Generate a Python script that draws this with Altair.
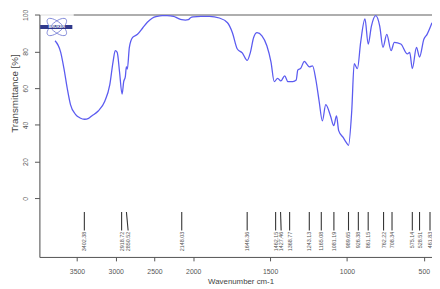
import altair as alt
import pandas as pd

# ---- spectrum (wavenumber cm-1, transmittance %) ----
wavenumber = [3783, 3710, 3668, 3626, 3584, 3520, 3460, 3402, 3350, 3310, 3226, 3141, 3077,
              3035, 3006, 2981, 2951, 2918, 2897, 2876, 2863, 2850, 2824, 2782, 2719, 2650,
              2592, 2530, 2465, 2400, 2338, 2253, 2200, 2148, 2100, 2063, 2030, 2000, 1950,
              1894, 1830, 1777, 1745, 1713, 1681, 1649, 1628, 1607, 1585, 1553, 1521, 1494,
              1473, 1451, 1430, 1405, 1384, 1352, 1330, 1320, 1300, 1277, 1260, 1245, 1224,
              1202, 1181, 1160, 1138, 1107, 1086, 1068, 1054, 1026, 1005, 990, 969, 953,
              932, 911, 883, 862, 841, 813, 787, 766, 741, 713, 692, 650, 607, 592, 575,
              548, 528, 500, 479, 447]
transmittance = [85.9, 79.6, 70.7, 60.0, 51.1, 45.8, 43.8, 43.1, 43.6, 44.9, 47.6, 52.9, 61.8,
                 74.3, 80.5, 79.6, 69.0, 56.8, 63.6, 66.3, 71.6, 70.5, 82.3, 87.7, 89.4, 93.0,
                 96.0, 98.2, 99.2, 99.6, 99.6, 99.2, 98.2, 97.4, 97.2, 97.4, 98.6, 98.9, 99.2,
                 99.2, 98.3, 95.7, 90.3, 81.4, 79.3, 75.2, 79.6, 87.7, 90.3, 88.6, 83.2, 74.3,
                 63.6, 65.4, 64.0, 66.8, 63.6, 63.6, 64.5, 69.9, 71.0, 74.7, 73.0, 71.6, 72.2,
                 64.5, 52.9, 42.2, 51.1, 44.9, 39.6, 44.9, 36.9, 33.3, 30.5, 28.9, 47.6, 73.4,
                 70.7, 85.0, 97.8, 84.1, 93.9, 99.6, 93.9, 82.3, 89.4, 80.5, 85.0, 84.1, 78.7,
                 79.6, 70.7, 82.3, 77.0, 86.7, 89.4, 95.7]

# ---- peak annotations ----
peak_labels = ["3402.38", "2918.72", "2850.52", "2148.03", "1646.36", "1462.15", "1427.46",
               "1368.77", "1243.13", "1165.08", "1081.19", "989.65", "926.38", "861.15",
               "762.22", "708.34", "575.14", "528.51", "461.83"]
peak_top = [3405, 2924, 2862, 2148, 1649, 1464, 1432, 1373, 1245, 1167, 1085, 990, 926, 862,
            762, 707, 575, 528, 460]
peak_bottom = [3405, 2924, 2840, 2148, 1649, 1464, 1428, 1373, 1245, 1167, 1085, 990, 926, 862,
               762, 707, 575, 528, 460]

x_ticks = [3500, 3000, 2500, 2000, 1500, 1000, 500]
y_ticks = [0, 20, 40, 60, 80, 100]

spec = pd.DataFrame({"wn": wavenumber, "t": transmittance})
peaks = pd.DataFrame({"label": peak_labels, "top": peak_top, "bottom": peak_bottom,
                      "y1": [-7.5] * len(peak_labels), "y2": [-17.6] * len(peak_labels),
                      "ty": [-18.3] * len(peak_labels)})
topline = pd.DataFrame({"a": [3542], "b": [447], "y": [100]})
logo = pd.DataFrame({"wn": [3760], "t": [93.4]})
logo_bar = pd.DataFrame({"a": [3975], "b": [3560], "y1": [92.3], "y2": [94.5]})

xscale = alt.Scale(domain=[3985, 2000, 447], range=[0, 156.7, 400], zero=False, nice=False)
yscale = alt.Scale(domain=[-32, 100.2], zero=False, nice=False)

xaxis = alt.Axis(values=x_ticks, title="Wavenumber cm-1", grid=False, format="d",
                 labelFont="Liberation Sans", labelFontSize=7, labelColor="#555",
                 tickColor="#555", domainColor="#555", tickSize=4, labelPadding=7,
                 titleFont="Liberation Sans", titleFontSize=8, titleFontWeight="normal",
                 titleColor="#444", titleY=25, titleX=205, titleAnchor="middle",
                 titleBaseline="middle")
yaxis = alt.Axis(values=y_ticks, title="Transmittance [%]", grid=False,
                 labelFont="Liberation Sans", labelFontSize=7, labelColor="#555",
                 labelAngle=270, labelAlign="center", labelBaseline="bottom", labelPadding=6,
                 tickColor="#555", domainColor="#555", tickSize=5,
                 titleFont="Liberation Sans", titleFontSize=10, titleFontWeight="normal",
                 titleColor="#444", titleAngle=270, titleX=-25, titleY=80,
                 titleAlign="center", titleBaseline="middle")

line = alt.Chart(spec).mark_line(color="#5b5bf0", strokeWidth=1.3, interpolate="monotone").encode(
    x=alt.X("wn:Q", scale=xscale, axis=xaxis),
    y=alt.Y("t:Q", scale=yscale, axis=yaxis),
)

top = alt.Chart(topline).mark_rule(color="#999", strokeWidth=1.5).encode(
    x=alt.X("a:Q", scale=xscale), x2="b:Q", y=alt.Y("y:Q", scale=yscale))

plines = alt.Chart(peaks).mark_rule(color="#333", strokeWidth=1.1).encode(
    x=alt.X("top:Q", scale=xscale), x2="bottom:Q",
    y=alt.Y("y1:Q", scale=yscale), y2="y2:Q")

ptext = alt.Chart(peaks).mark_text(angle=270, align="right", baseline="middle",
                                   font="Liberation Sans", fontSize=5.5, color="#555").encode(
    x=alt.X("bottom:Q", scale=xscale), y=alt.Y("ty:Q", scale=yscale), text="label:N")

ellipse = "M -1 0 A 1 0.42 0 1 0 1 0 A 1 0.42 0 1 0 -1 0 Z"
bar = alt.Chart(logo_bar).mark_rect(color="#1a237e", opacity=0.9).encode(
    x=alt.X("a:Q", scale=xscale), x2="b:Q", y=alt.Y("y1:Q", scale=yscale), y2="y2:Q")
orb1 = alt.Chart(logo).mark_point(shape=ellipse, filled=False, color="#4a56c8", size=600,
                                  angle=40, strokeWidth=0.9).encode(
    x=alt.X("wn:Q", scale=xscale), y=alt.Y("t:Q", scale=yscale))
orb2 = alt.Chart(logo).mark_point(shape=ellipse, filled=False, color="#4a56c8", size=600,
                                  angle=140, strokeWidth=0.9).encode(
    x=alt.X("wn:Q", scale=xscale), y=alt.Y("t:Q", scale=yscale))
btxt = alt.Chart(logo).mark_text(text="BRUKER", font="Liberation Sans", fontSize=4,
                                 fontWeight="bold", color="white").encode(
    x=alt.X("wn:Q", scale=xscale), y=alt.Y("t:Q", scale=yscale))

chart = alt.layer(top, line, plines, ptext, orb1, orb2, bar, btxt).properties(
    width=400, height=247,
    autosize=alt.AutoSizeParams(type="none"),
    padding={"left": 32, "top": 4, "right": 0, "bottom": 30},
).configure_view(stroke=None).configure(background="white")

chart.save("out.html", embed_options={"renderer": "svg", "actions": False})
